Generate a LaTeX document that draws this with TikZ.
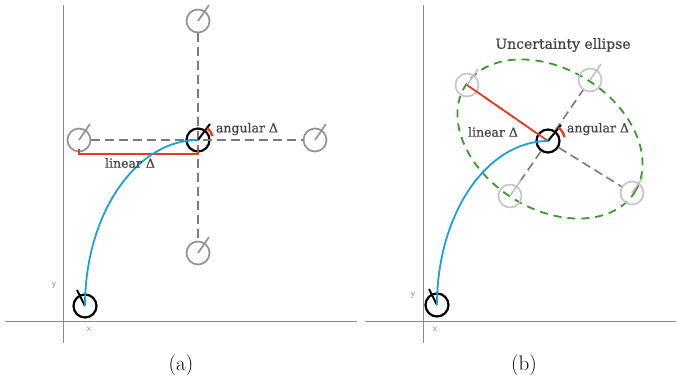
\documentclass[tikz,border=0pt]{standalone}
\usepackage{fontspec}
\newfontfamily\lblfont[BoldFont={DejaVu Serif},BoldFeatures={FakeBold=0.6}]{DejaVu Serif}
\usetikzlibrary{calc}
\definecolor{bluec}{HTML}{1E9FD8}
\definecolor{redc}{HTML}{E0401F}
\definecolor{greenc}{HTML}{3A9A2A}
\definecolor{axisc}{HTML}{8A8A8A}
\definecolor{dashc}{HTML}{7A7A7A}
\definecolor{txtc}{HTML}{444444}
\begin{document}
\begin{tikzpicture}[x=1pt,y=-1pt,
 axisline/.style={draw=axisc,line width=1pt},
 pose/.style={circle,inner sep=0pt,minimum size=23pt,line width=1.7pt},
 blackpose/.style={pose,draw=black,line width=2.2pt},
 graypose/.style={pose,draw=gray!85},
 lightpose/.style={pose,draw=gray!45},
 blacktick/.style={draw=black,line width=2pt},
 graytick/.style={draw=gray!85,line width=1.7pt},
 lighttick/.style={draw=gray!50,line width=1.5pt},
 guide/.style={draw=dashc,line width=1.6pt,dash pattern=on 9pt off 5pt},
 ellguide/.style={draw=greenc,line width=1.8pt,dash pattern=on 8pt off 6pt},
 traj/.style={draw=bluec,line width=1.8pt},
 delta/.style={draw=redc,line width=1.8pt},
 lbl/.style={font=\lblfont\bfseries\fontsize{12.5}{14}\selectfont,text=txtc,inner sep=0pt},
 biglbl/.style={font=\lblfont\bfseries\fontsize{14}{16}\selectfont,text=txtc,inner sep=0pt},
 axlbl/.style={font=\sffamily\fontsize{9.5}{9.5}\selectfont,text=gray,inner sep=0pt},
 captxt/.style={font=\fontsize{21}{24}\selectfont,inner sep=0pt}
]
\useasboundingbox (0,0) rectangle (678,379);
\fill[white] (0,0) rectangle (678,379);

% ---------- axes ----------
\coordinate (ax1t) at (63,5);   \coordinate (ax1b) at (63,343);
\coordinate (ax1l) at (5,322);  \coordinate (ax1r) at (357,322);
\coordinate (ax2t) at (423,5);  \coordinate (ax2b) at (423,343);
\coordinate (ax2l) at (365,322);\coordinate (ax2r) at (676,322);
\draw[axisline] (ax1t) -- (ax1b);
\draw[axisline] (ax1l) -- (ax1r);
\draw[axisline] (ax2t) -- (ax2b);
\draw[axisline] (ax2l) -- (ax2r);
\node[axlbl] (y1) at (54,285) {y};
\node[axlbl] (x1) at (89,329) {x};
\node[axlbl] (y2) at (413,295) {y};
\node[axlbl] (x2) at (435,329) {x};

% ---------- panel (a) ----------
\node[blackpose] (S1) at (85,306) {};
\node[blackpose] (M1) at (198,140) {};
\node[graypose] (T1) at (198,21) {};
\node[graypose] (L1) at (79,140) {};
\node[graypose] (R1) at (315,140) {};
\node[graypose] (B1) at (198,253) {};

\draw[guide] (L1) -- (R1);
\draw[guide] (T1) -- (B1);

\foreach \n in {T1,L1,R1,B1}{\draw[graytick] (\n.center) -- ++(11,-16);}
\draw[blacktick] (M1.center) -- ++(12,-16);
\draw[blacktick] (S1.center) -- ++(-8,-16);

\draw[delta] ([yshift=-9pt]L1.center) -- ([yshift=-14pt]L1.center)
  -- ([yshift=-14pt]M1.center) -- ([yshift=-9pt]M1.center);
\draw[delta,line width=2.4pt] ([shift={(15:15pt)}]M1.center) arc[start angle=15,end angle=52,radius=15pt];

\draw[traj] (S1.center) .. controls (85,214) and (136,140) .. (M1.center);

\node[lbl] (lin1) at (130,163) {linear Δ};
\node[lbl] (ang1) at (247,129) {angular Δ};
\node[captxt] (capa) at (181,365) {(a)};

% ---------- panel (b) ----------
\coordinate (E) at (550,139);
\draw[ellguide,rotate around={-32:(E)}] (E) ellipse[x radius=100pt,y radius=70pt];

\node[blackpose] (S2) at (437,305) {};
\node[blackpose] (M2) at (548,141) {};
\node[lightpose] (G1) at (467,85) {};
\node[lightpose] (G2) at (590,80) {};
\node[lightpose] (G3) at (510,196) {};
\node[lightpose] (G4) at (632,193) {};

\foreach \n in {G1,G2,G3,G4}{\draw[guide] (M2) -- (\n);}
\foreach \n in {G1,G2,G3,G4}{\draw[lighttick] (\n.center) -- ++(11,-16);}
\draw[blacktick] (M2.center) -- ++(13,-16);
\draw[blacktick] (S2.center) -- ++(-8,-16);

\draw[delta] (G1.center) -- (M2.center);
\draw[delta,line width=2.4pt] ([shift={(13:17pt)}]M2.center) arc[start angle=13,end angle=52,radius=17pt];

\draw[traj] (S2.center) .. controls (437,214) and (487,141) .. (M2.center);

\node[lbl] (lin2) at (493,132) {linear Δ};
\node[lbl] (ang2) at (598,129) {angular Δ};
\node[biglbl] (unc) at (563,45) {Uncertainty ellipse};
\node[captxt] (capb) at (524,365) {(b)};
\end{tikzpicture}
\end{document}
